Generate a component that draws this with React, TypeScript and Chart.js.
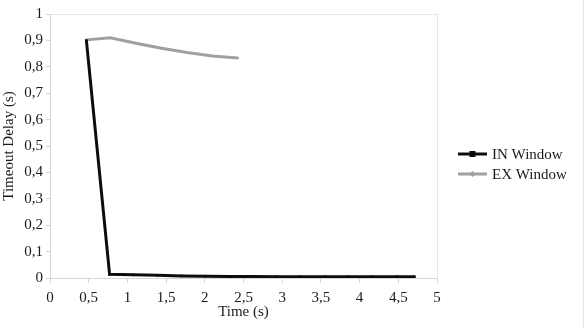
import React, { useEffect, useRef } from "react";
import { Chart, registerables } from "chart.js";

Chart.register(...registerables);

// Timeout delay measured inside the window
const inTime = [0.47, 0.77, 1.07, 1.39, 1.7, 2.01, 2.32, 2.62, 2.93, 3.24, 3.55, 3.86, 4.17, 4.48, 4.71];
const inDelay = [0.9, 0.014, 0.012, 0.01, 0.008, 0.007, 0.006, 0.006, 0.005, 0.005, 0.005, 0.005, 0.005, 0.005, 0.005];

// Timeout delay measured outside the window
const exTime = [0.47, 0.78, 1.11, 1.44, 1.77, 2.1, 2.43];
const exDelay = [0.902, 0.91, 0.889, 0.87, 0.854, 0.841, 0.833];

const seriesLabels = ["IN Window", "EX Window"];
const xTitle = "Time (s)";
const yTitle = "Timeout Delay (s)";

const FONT = "'Liberation Serif', 'Times New Roman', serif";
const FONT_SIZE = 15;

const commaNumber = (v: number) => String(+Number(v).toFixed(1)).replace(".", ",");

// Side legend drawn next to the plot area
const sideLegend = {
  id: "sideLegend",
  afterDraw(chart: any) {
    const { ctx, chartArea } = chart;
    const x0 = chartArea.right + 21;
    const midY = (chartArea.top + chartArea.bottom) / 2;
    ctx.save();
    chart.data.datasets.forEach((ds: any, i: number) => {
      const y = midY + 8 + i * 20;
      ctx.strokeStyle = ds.borderColor;
      ctx.lineWidth = ds.borderWidth;
      ctx.beginPath();
      ctx.moveTo(x0, y);
      ctx.lineTo(x0 + 29, y);
      ctx.stroke();
      const cx = x0 + 14.5;
      ctx.fillStyle = ds.pointBackgroundColor;
      if (ds.pointStyle === "rect") {
        ctx.fillRect(cx - 3, y - 3, 6, 6);
      } else {
        ctx.beginPath();
        ctx.moveTo(cx, y - 3);
        ctx.lineTo(cx + 3, y);
        ctx.lineTo(cx, y + 3);
        ctx.lineTo(cx - 3, y);
        ctx.closePath();
        ctx.fill();
      }
      ctx.fillStyle = "#1a1a1a";
      ctx.font = `${FONT_SIZE}px ${FONT}`;
      ctx.textAlign = "left";
      ctx.textBaseline = "middle";
      ctx.fillText(ds.label, x0 + 34, y + 1);
    });
    // thin outer frame edge on the right
    ctx.strokeStyle = "#e6e6e6";
    ctx.lineWidth = 1;
    ctx.beginPath();
    ctx.moveTo(chart.width - 2.5, 0);
    ctx.lineTo(chart.width - 2.5, chart.height);
    ctx.stroke();
    ctx.restore();
  },
};

const whiteBg = {
  id: "whiteBg",
  beforeDraw(chart: any) {
    const { ctx } = chart;
    ctx.save();
    ctx.fillStyle = "#ffffff";
    ctx.fillRect(0, 0, chart.width, chart.height);
    ctx.restore();
  },
};

export default function App() {
  const canvasRef = useRef<HTMLCanvasElement | null>(null);

  useEffect(() => {
    const canvas = canvasRef.current;
    if (!canvas) return;
    const chart = new Chart(canvas, {
      type: "line",
      data: {
        datasets: [
          {
            label: seriesLabels[0],
            data: inTime.map((t, i) => ({ x: t, y: inDelay[i] })),
            borderColor: "#0d0d0d",
            backgroundColor: "#0d0d0d",
            pointBackgroundColor: "#0d0d0d",
            pointBorderColor: "#0d0d0d",
            pointStyle: "rect",
            pointRadius: 1.8,
            pointBorderWidth: 0,
            borderWidth: 3,
            tension: 0,
          },
          {
            label: seriesLabels[1],
            data: exTime.map((t, i) => ({ x: t, y: exDelay[i] })),
            borderColor: "#a0a0a0",
            backgroundColor: "#a0a0a0",
            pointBackgroundColor: "#a0a0a0",
            pointBorderColor: "#a0a0a0",
            pointStyle: "rectRot",
            pointRadius: 1.2,
            pointBorderWidth: 0,
            borderWidth: 3,
            tension: 0,
          },
        ],
      },
      options: {
        responsive: false,
        animation: false,
        layout: { padding: { top: 14, right: 149, bottom: 0, left: 0 } },
        plugins: {
          legend: { display: false },
          tooltip: { enabled: false },
        },
        scales: {
          x: {
            type: "linear",
            min: 0,
            max: 5,
            ticks: {
              stepSize: 0.5,
              color: "#1a1a1a",
              font: { family: FONT, size: FONT_SIZE },
              padding: 6,
              maxRotation: 0,
              callback: (v: any) => commaNumber(v),
            },
            grid: {
              color: (c: any) => (c.tick && c.tick.value === 5 ? "#e6e6e6" : "rgba(0,0,0,0)"),
              tickColor: "#d6d6d6",
              tickLength: 5,
            },
            border: { color: "#d6d6d6" },
            title: {
              display: true,
              text: xTitle,
              color: "#1a1a1a",
              font: { family: FONT, size: FONT_SIZE },
              padding: { top: 0, bottom: 7 },
            },
            afterFit: (scale: any) => {
              scale.height = 50;
            },
          },
          y: {
            type: "linear",
            min: 0,
            max: 1,
            ticks: {
              stepSize: 0.1,
              color: "#1a1a1a",
              font: { family: FONT, size: FONT_SIZE },
              padding: 3,
              callback: (v: any) => commaNumber(v),
            },
            grid: {
              color: (c: any) => (c.tick && c.tick.value === 1 ? "#e6e6e6" : "rgba(0,0,0,0)"),
              tickColor: "#d6d6d6",
              tickLength: 4,
            },
            border: { color: "#d6d6d6" },
            title: {
              display: true,
              text: yTitle,
              color: "#1a1a1a",
              font: { family: FONT, size: FONT_SIZE },
              padding: { top: 0, bottom: 0 },
            },
            afterFit: (scale: any) => {
              scale.width = 50;
            },
          },
        },
      },
      plugins: [whiteBg, sideLegend],
    });
    return () => chart.destroy();
  }, []);

  return (
    <div style={{ position: "fixed", left: 0, top: 0, width: 586, height: 328, background: "#fff" }}>
      <canvas ref={canvasRef} width={586} height={328} style={{ display: "block" }} />
    </div>
  );
}
